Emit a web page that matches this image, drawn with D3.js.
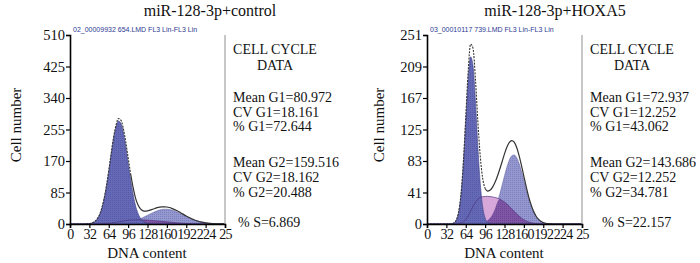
<!DOCTYPE html>
<html>
<head>
<meta charset="utf-8">
<script src="https://cdn.jsdelivr.net/npm/d3@7"></script>
<style>
  body { margin: 0; background: #fff; }
  text { font-family: "Liberation Serif", "Times New Roman", serif; fill: #111; }
</style>
</head>
<body>
<svg id="chart" width="700" height="263"></svg>
<script>
// DNA channel bins (every 4th channel, 0..256)
const channels = [0,4,8,12,16,20,24,28,32,36,40,44,48,52,56,60,64,68,72,76,80,84,88,92,96,100,
  104,108,112,116,120,124,128,132,136,140,144,148,152,156,160,164,168,172,176,180,184,188,192,
  196,200,204,208,212,216,220,224,228,232,236,240,244,248,252,256];

// miR-128-3p+control : fitted G1 / S / G2 components (cell counts)
const ctrlG1 = [0,0,0,0,0,0,0,0.4,1.1,2.6,5.7,11.7,22.4,39.7,65.5,100,142,188,231,262,278,272,248,
  210,165,121,82,51,30,16.3,8.2,3.9,1.7,0.7,0.2,0,0,0,0,0,0,0,0,0,0,0,0,0,0,0,0,0,0,0,0,0,0,0,0,0,0,0,0,0,0];
const ctrlS = [0,0,0,0,0,0,0,0,0,0,0.1,0.1,0.2,0.3,0.5,0.9,1.5,2.3,3.2,4.4,5.6,6.9,8.2,9.2,10.0,10.6,
  11.0,11.2,11.2,11.1,10.9,10.6,10.3,9.9,9.4,8.9,8.4,7.8,7.1,6.5,5.9,5.2,4.5,3.9,3.3,2.8,2.3,1.9,1.5,
  1.2,0.9,0.7,0.5,0.4,0.3,0.2,0.1,0.1,0,0,0,0,0,0,0];
const ctrlG2 = [0,0,0,0,0,0,0,0,0,0,0,0,0,0,0,0,0,0,0,0,1.1,1.5,2.2,3.0,4.1,5.4,7.1,9.0,11.4,14.0,17.0,
  20.1,23.4,26.8,30.0,33.0,35.6,37.7,39.2,39.9,39.9,39.2,37.7,35.6,33.0,30.0,26.8,23.4,20.1,17.0,14.0,
  11.4,9.0,7.1,5.4,4.1,3.0,2.2,1.5,1.1,0.7,0.5,0.3,0.2,0.1];

// miR-128-3p+HOXA5
const hoxG1 = [0,0,0,0,0,0,0,0,0,0,0.3,1.2,4.6,14.5,37.4,78.7,136,192,222,210,163,103,53.5,22.7,7.9,
  2.3,0.5,0,0,0,0,0,0,0,0,0,0,0,0,0,0,0,0,0,0,0,0,0,0,0,0,0,0,0,0,0,0,0,0,0,0,0,0,0,0];
const hoxS = [0,0,0,0,0,0,0,0,0,0,0,0,0,0.4,1.1,2.7,5.8,10.6,16.9,23.4,28.9,33.0,35.3,36.3,36.6,36.7,
  36.4,36.0,35.3,34.4,33.1,31.3,29.2,26.5,23.4,20.1,16.9,13.6,10.5,7.8,5.7,3.9,2.6,1.7,1.0,0.6,0.3,
  0.2,0.1,0,0,0,0,0,0,0,0,0,0,0,0,0,0,0,0];
const hoxG2 = [0,0,0,0,0,0,0,0,0,0,0,0,0,0,0,0,0,0,0,0,0,0,0.7,1.4,2.6,4.6,7.9,12.7,19.5,28.4,39.2,
  51.4,64.0,75.7,85.0,90.7,91.8,88.4,80.7,70.0,57.7,45.1,33.5,23.7,15.9,10.1,6.1,3.5,1.9,1.0,0.5,0.2,
  0,0,0,0,0,0,0,0,0,0,0,0,0];

const xTicks = [0,32,64,96,128,160,192,224,256];
const xTickLabels = ['0','32','64','96','128','160','192','224','25'];
const ctrlYTicks = [0,85,170,255,340,425,510];
const hoxYTicks = [0,41.83,83.67,125.5,167.33,209.17,251];
const hoxYLabels = ['0','41','83','125','167','209','251'];

const titles = ['miR-128-3p+control', 'miR-128-3p+HOXA5'];
const fileNames = ['02_00009932 654.LMD FL3 Lin-FL3 Lin', '03_00010117 739.LMD FL3 Lin-FL3 Lin'];
const ctrlStats = ['Mean G1=80.972','CV G1=18.161','% G1=72.644','Mean G2=159.516','CV G2=18.162','% G2=20.488','% S=6.869'];
const hoxStats = ['Mean G1=72.937','CV G1=12.252','% G1=43.062','Mean G2=143.686','CV G2=12.252','% G2=34.781','% S=22.157'];

const svg = d3.select('#chart');
const plotW = 155, plotTop = 35, plotBottom = 224;

// fine grid dither like the cytometry software fills
const defs = svg.append('defs');
function hatch(id, base, line) {
  const p = defs.append('pattern').attr('id', id).attr('width', 2).attr('height', 2)
    .attr('patternUnits', 'userSpaceOnUse');
  p.append('rect').attr('width', 2).attr('height', 2).attr('fill', base);
  p.append('rect').attr('width', 1).attr('height', 1).attr('fill', line);
}
hatch('hG1', '#6569b6', '#555aa8');
hatch('hG2', '#9597cf', '#7c7fc0');
hatch('hSG2', '#7f56a6', '#6c4494');

function drawPanel(cfg) {
  const g = svg.append('g');
  const ox = cfg.ox;
  const x = d3.scaleLinear().domain([0, 256]).range([ox, ox + plotW]);
  const y = d3.scaleLinear().domain([0, cfg.yMax]).range([plotBottom, plotTop]);

  const rows = channels.map((c, i) => ({
    c, g1: cfg.g1[i], s: cfg.s[i], g2: cfg.g2[i],
    sg2: Math.min(cfg.s[i], cfg.g2[i]),
    tot: cfg.g1[i] + cfg.s[i] + cfg.g2[i]
  }));
  const area = key => d3.area().x(d => x(d.c)).y0(y(0)).y1(d => y(d[key])).curve(d3.curveMonotoneX);
  const line = key => d3.line().x(d => x(d.c)).y(d => y(d[key])).curve(d3.curveMonotoneX);

  // G2, S (pink), their overlap (purple), G1 on top
  g.append('path').datum(rows).attr('d', area('g2')).attr('fill', 'url(#hG2)')
    .attr('stroke', '#5a5c9a').attr('stroke-width', 0.5);
  g.append('path').datum(rows).attr('d', area('s')).attr('fill', '#d8a7da');
  g.append('path').datum(rows).attr('d', area('sg2')).attr('fill', 'url(#hSG2)');
  g.append('path').datum(rows).attr('d', area('g1')).attr('fill', 'url(#hG1)')
    .attr('stroke', '#3c3f86').attr('stroke-width', 0.6);
  g.append('path').datum(rows).attr('d', line('s')).attr('fill', 'none')
    .attr('stroke', '#4e3680').attr('stroke-width', 0.7);

  // fitted envelope: dotted over the G1 peak, solid after
  g.append('path').datum(rows.filter(d => d.c <= cfg.dashUntil)).attr('d', line('tot'))
    .attr('fill', 'none').attr('stroke', '#333').attr('stroke-width', 1.1).attr('stroke-dasharray', '2,1.2');
  g.append('path').datum(rows.filter(d => d.c >= cfg.dashUntil)).attr('d', line('tot'))
    .attr('fill', 'none').attr('stroke', '#333').attr('stroke-width', 1.2);

  // frame right edge
  g.append('line').attr('x1', ox + plotW).attr('x2', ox + plotW).attr('y1', plotTop).attr('y2', plotBottom)
    .attr('stroke', '#b5b5b5').attr('stroke-width', 1.5);

  // axes
  const yAxis = d3.axisLeft(y).tickValues(cfg.yTicks).tickSize(4).tickFormat((d, i) => cfg.yLabels[i]);
  const ya = g.append('g').attr('transform', `translate(${ox},0)`).call(yAxis);
  const xAxis = d3.axisBottom(x).tickValues(xTicks).tickSize(4).tickFormat((d, i) => xTickLabels[i]);
  const xa = g.append('g').attr('transform', `translate(0,${plotBottom})`).call(xAxis);
  [ya, xa].forEach(a => {
    a.select('.domain').attr('stroke', '#000').attr('stroke-width', 1.6);
    a.selectAll('.tick line').attr('stroke', '#000').attr('stroke-width', 1.2);
    a.selectAll('.tick text').attr('fill', '#111')
      .style('font-family', '"Liberation Serif", serif');
  });
  ya.selectAll('.tick text').style('font-size', '14.5px').attr('x', -5);
  xa.selectAll('.tick text').style('font-size', '14px').style('letter-spacing', '-0.7px').attr('y', 5);

  // titles and labels
  g.append('text').attr('x', cfg.titleX).attr('y', 16).attr('text-anchor', 'middle')
    .style('font-size', '16px').text(cfg.title);
  g.append('text').attr('x', ox + 3).attr('y', 31.5)
    .style('font-family', '"Liberation Sans", Arial, sans-serif').style('font-size', '7px')
    .style('fill', '#2d3a92').text(cfg.file);
  g.append('text').attr('transform', `translate(${cfg.ylabX},${125}) rotate(-90)`)
    .attr('text-anchor', 'middle').style('font-size', '15px').text('Cell number');
  g.append('text').attr('x', ox + 77).attr('y', 258).attr('text-anchor', 'middle')
    .style('font-size', '15px').text('DNA content');

  // cell cycle summary
  const tx = ox + 163;
  g.append('text').attr('x', ox + 205).attr('y', 54).attr('text-anchor', 'middle')
    .style('font-size', '14px').text('CELL CYCLE');
  g.append('text').attr('x', ox + 205).attr('y', 70).attr('text-anchor', 'middle')
    .style('font-size', '14px').text('DATA');
  const statY = [102, 117, 131, 167, 182, 197];
  cfg.stats.slice(0, 6).forEach((t, i) => {
    g.append('text').attr('x', tx).attr('y', statY[i]).style('font-size', '14px').text(t);
  });
  g.append('text').attr('x', cfg.sX).attr('y', 227).style('font-size', '14px').text(cfg.stats[6]);
}

drawPanel({ ox: 70, g1: ctrlG1, s: ctrlS, g2: ctrlG2, yMax: 510, yTicks: ctrlYTicks,
  yLabels: ctrlYTicks.map(String), title: titles[0], file: fileNames[0], stats: ctrlStats,
  titleX: 210, ylabX: 21, sX: 238, dashUntil: 100 });
drawPanel({ ox: 427, g1: hoxG1, s: hoxS, g2: hoxG2, yMax: 251, yTicks: hoxYTicks,
  yLabels: hoxYLabels, title: titles[1], file: fileNames[1], stats: hoxStats,
  titleX: 555, ylabX: 384, sX: 602, dashUntil: 96 });
</script>
</body>
</html>
